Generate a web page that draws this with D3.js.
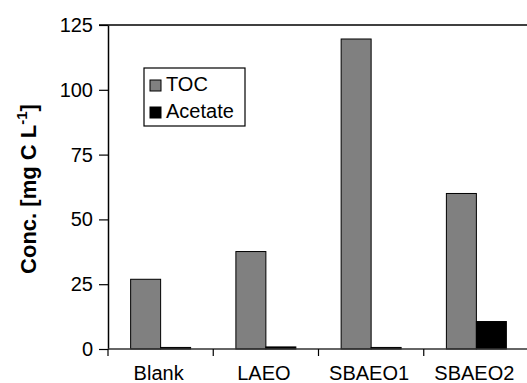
<!DOCTYPE html>
<html>
<head>
<meta charset="utf-8">
<script src="https://cdn.jsdelivr.net/npm/d3@7"></script>
<style>
  body { margin: 0; background: #fff; }
  svg { display: block; font-family: "Liberation Sans", Arial, sans-serif; }
</style>
</head>
<body>
<script>
// data
var categories = ["Blank", "LAEO", "SBAEO1", "SBAEO2"];
var series = ["TOC", "Acetate"];
var tocValues = [26.9, 37.6, 119.6, 60.0];
var acetateValues = [0.6, 0.8, 0.6, 10.6];
var yTicks = [0, 25, 50, 75, 100, 125];
var colors = { TOC: "#808080", Acetate: "#000000" };

var W = 527, H = 383;
var margin = { top: 25, right: -2, bottom: 34, left: 108 };

var dataset = categories.map(function (c, i) {
  return { cat: c, TOC: tocValues[i], Acetate: acetateValues[i] };
});

var svg = d3.select("body").append("svg")
  .attr("width", W)
  .attr("height", H);

// scales
var x = d3.scaleBand()
  .domain(categories)
  .range([margin.left, W - margin.right])
  .paddingInner(0)
  .paddingOuter(0);

var xSub = d3.scaleBand()
  .domain(series)
  .range([0, x.bandwidth()])
  .paddingInner(0)
  .paddingOuter(0.755);

var y = d3.scaleLinear()
  .domain([0, 125])
  .range([H - margin.bottom, margin.top]);

// top frame line
svg.append("line")
  .attr("x1", margin.left - 9).attr("x2", W)
  .attr("y1", y(125)).attr("y2", y(125))
  .attr("stroke", "#000").attr("stroke-width", 1.5);

// bars
var groups = svg.selectAll("g.grp")
  .data(dataset)
  .enter().append("g")
  .attr("class", "grp")
  .attr("transform", function (d) { return "translate(" + x(d.cat) + ",0)"; });

groups.selectAll("rect")
  .data(function (d) { return series.map(function (s) { return { s: s, v: d[s] }; }); })
  .enter().append("rect")
  .attr("x", function (d) { return xSub(d.s); })
  .attr("width", xSub.bandwidth())
  .attr("y", function (d) { return y(d.v); })
  .attr("height", function (d) { return y(0) - y(d.v); })
  .attr("fill", function (d) { return colors[d.s]; })
  .attr("stroke", "#000")
  .attr("stroke-width", 1);

// y axis
var yAxis = svg.append("g")
  .attr("transform", "translate(" + margin.left + ",0)")
  .call(d3.axisLeft(y).tickValues(yTicks).tickSize(9).tickPadding(6).tickSizeOuter(0));
yAxis.select(".domain").attr("stroke-width", 1.5);
yAxis.selectAll(".tick line").attr("stroke-width", 1.2);
yAxis.selectAll("text")
  .attr("font-size", 20)
  .attr("font-family", "'Liberation Sans', Arial, sans-serif")
  .attr("fill", "#000");

// x axis: ticks at the category boundaries
var xAxis = svg.append("g")
  .attr("transform", "translate(0," + y(0) + ")");
xAxis.append("line")
  .attr("x1", margin.left).attr("x2", W)
  .attr("stroke", "#333").attr("stroke-width", 1.5);
xAxis.selectAll("line.tk")
  .data(categories)
  .enter().append("line")
  .attr("class", "tk")
  .attr("x1", function (d) { return x(d); })
  .attr("x2", function (d) { return x(d); })
  .attr("y1", 0).attr("y2", 7)
  .attr("stroke", "#000").attr("stroke-width", 1.2);
xAxis.selectAll("text")
  .data(categories)
  .enter().append("text")
  .attr("x", function (d) { return x(d) + x.bandwidth() / 2 - 2; })
  .attr("y", 31)
  .attr("text-anchor", "middle")
  .attr("font-size", 20)
  .text(function (d) { return d; });

// y title
var title = svg.append("text")
  .attr("transform", "translate(36,189) rotate(-90)")
  .attr("text-anchor", "middle")
  .attr("font-size", 22)
  .attr("font-weight", "bold");
title.append("tspan").text("Conc. [mg C L");
title.append("tspan").attr("dy", -9).attr("font-size", 15).text("-1");
title.append("tspan").attr("dy", 9).text("]");

// legend
var legend = svg.append("g").attr("transform", "translate(144,68)");
legend.append("rect")
  .attr("width", 101).attr("height", 58)
  .attr("fill", "#fff").attr("stroke", "#000").attr("stroke-width", 1.2);
var items = legend.selectAll("g.item")
  .data(series)
  .enter().append("g")
  .attr("class", "item")
  .attr("transform", function (d, i) { return "translate(6," + (12 + i * 27) + ")"; });
items.append("rect")
  .attr("width", 11).attr("height", 11)
  .attr("fill", function (d) { return colors[d]; })
  .attr("stroke", "#000").attr("stroke-width", 1);
items.append("text")
  .attr("x", 16).attr("y", 11)
  .attr("font-size", 20)
  .text(function (d) { return d; });
</script>
</body>
</html>
